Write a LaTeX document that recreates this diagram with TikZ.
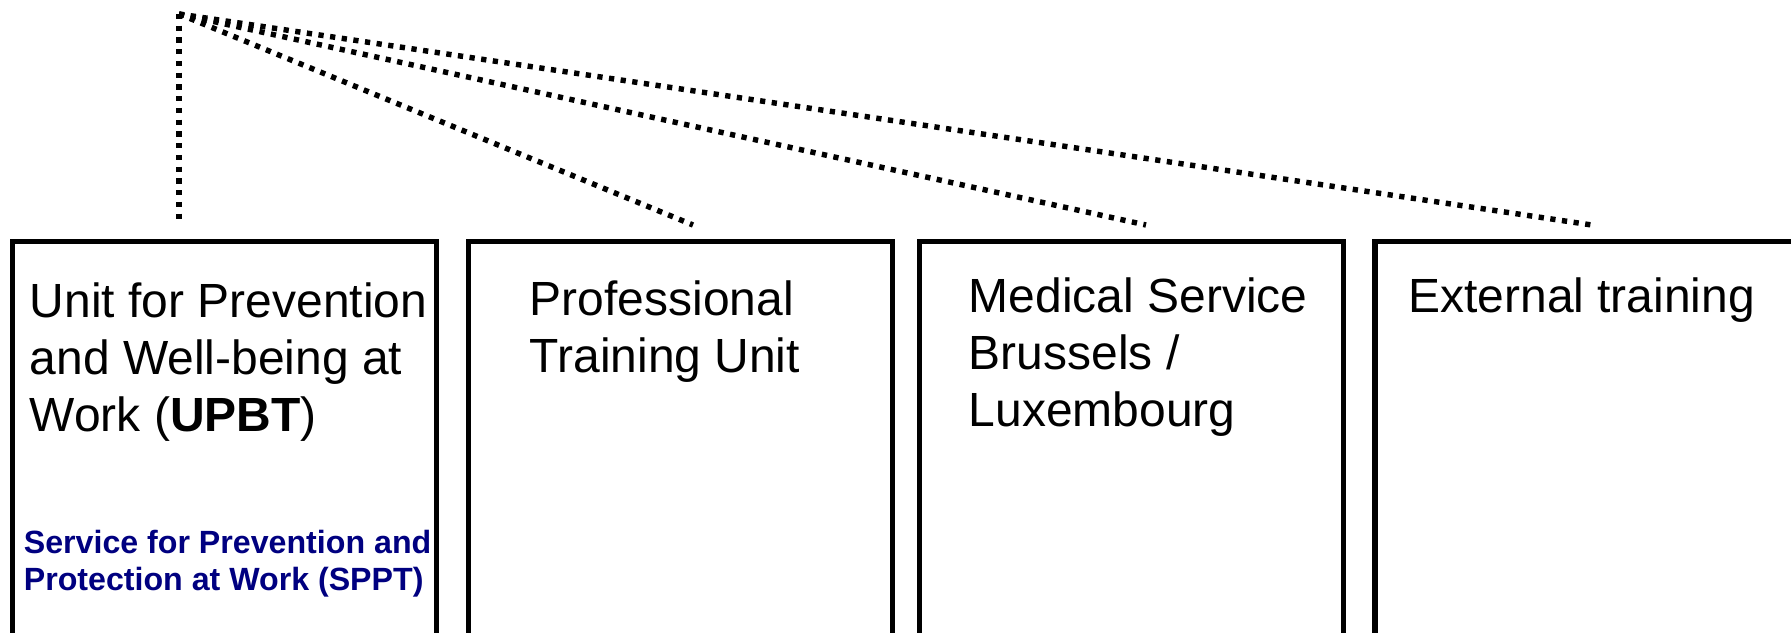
\documentclass[tikz,border=0pt]{standalone}
\usepackage{fontspec}
\setmainfont{Liberation Sans}
\usetikzlibrary{positioning}
\definecolor{spptblue}{RGB}{0,0,128}

\begin{document}
\begin{tikzpicture}[
      unitbox/.style={draw, line width=2.95pt, minimum width=8.48cm,
                      minimum height=9cm, anchor=north west, outer sep=0pt},
      unittext/.style={anchor=base west, inner sep=0pt, align=left,
                       font=\fontsize{27.3}{32.7}\selectfont},
      link/.style={line width=3.1pt, dash pattern=on 0.105cm off 0.13cm}
  ]
    \path[use as bounding box, clip] (0,0) rectangle (35.82,12.64);

    % units, cut off at the bottom and on the right
    \node[unitbox] (upbt) at (0.25,7.81) {};
    \node[unitbox] (ptu) at (9.37,7.81) {};
    \node[unitbox] (med) at (18.39,7.81) {};
    \node[unitbox] (ext) at (27.50,7.81) {};

    % labels sit on the baseline of their last line
    \node[unittext] (upbt-txt) at (0.59,4.00)
      {Unit for Prevention\\and Well-being at\\Work (\textbf{UPBT})};
    \node[unittext] (ptu-txt) at (10.59,5.19) {Professional\\Training Unit};
    \node[unittext] (med-txt) at (19.37,4.10)
      {Medical Service\\Brussels /\\Luxembourg};
    \node[unittext] (ext-txt) at (28.16,6.38) {External training};

    \node[unittext, text=spptblue, font=\fontsize{18.3}{21.6}\selectfont\bfseries]
      (sppt) at (0.47,0.82)
      {Service for Prevention and\\Protection at Work (SPPT)};

    % dotted links from the top
    \coordinate (apex) at (3.58,12.36);
    \coordinate (to-upbt) at (3.58,8.16);
    \coordinate (to-ptu) at (13.86,8.14);
    \coordinate (to-med) at (22.92,8.14);
    \coordinate (to-ext) at (31.90,8.13);

    \draw[link] (apex) -- (to-upbt);
    \draw[link] (apex) -- (to-ptu);
    \draw[link] (apex) -- (to-med);
    \draw[link] (apex) -- (to-ext);
  \end{tikzpicture}
\end{document}
